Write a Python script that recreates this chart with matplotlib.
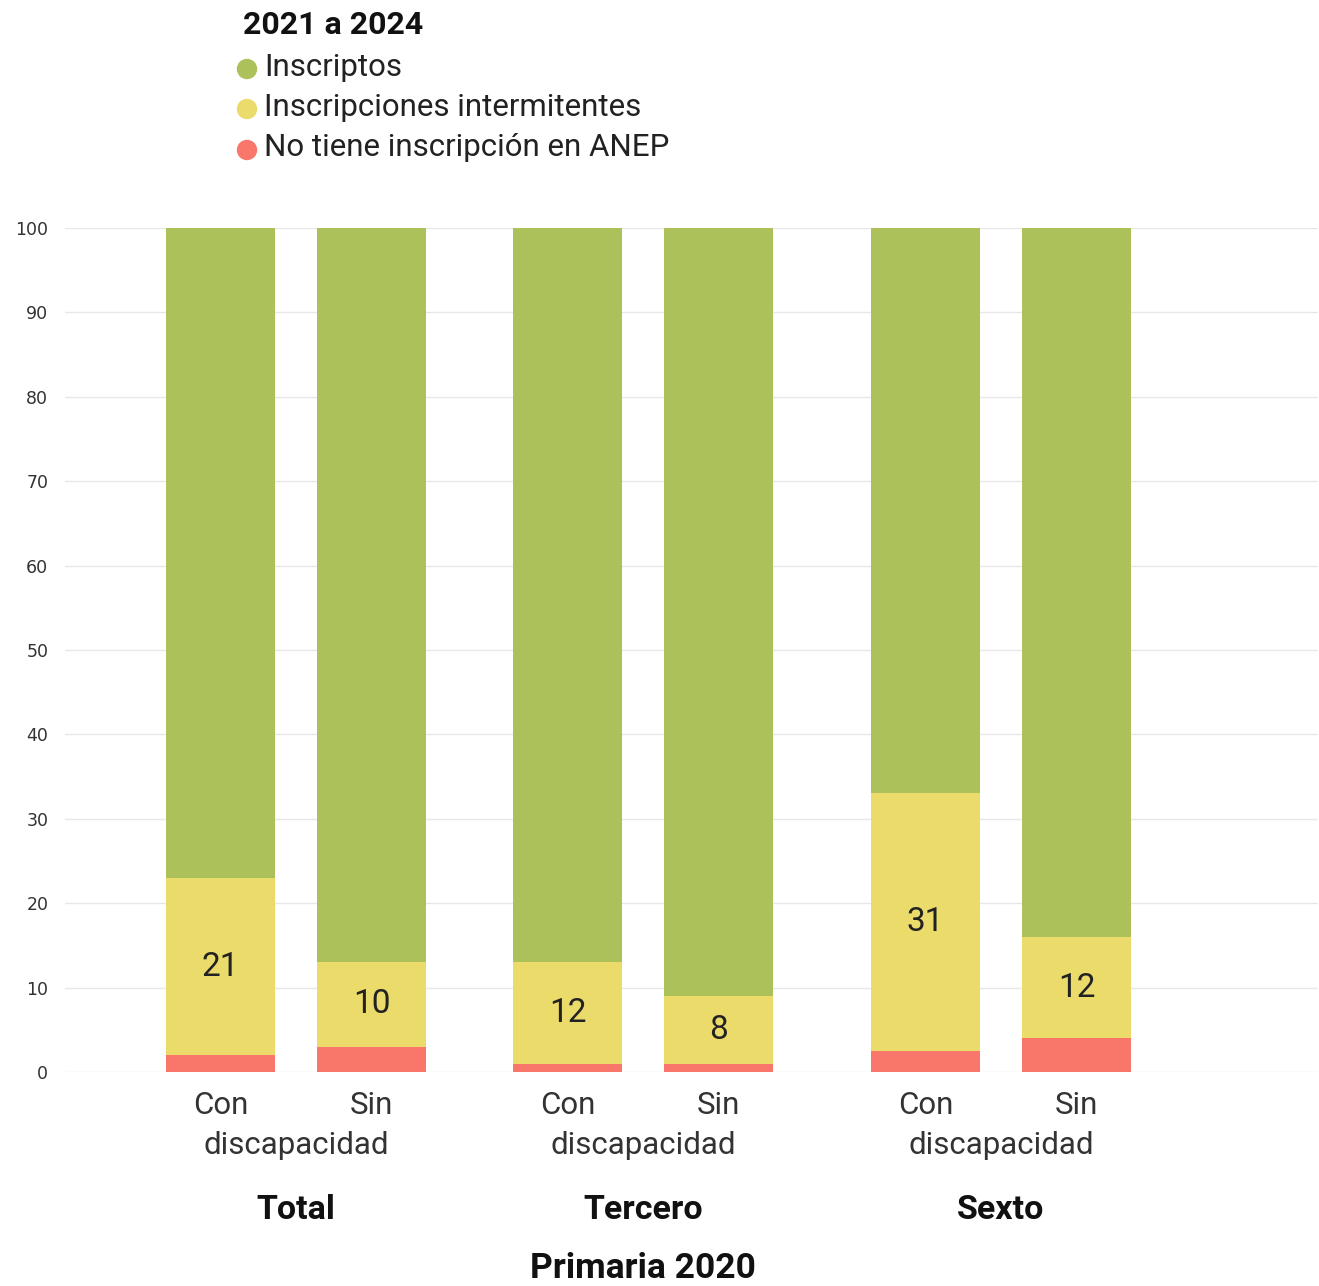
import matplotlib
matplotlib.use("Agg")
import matplotlib.pyplot as plt
from matplotlib.patches import Ellipse

plt.rcParams['font.family'] = ['Roboto', 'DejaVu Sans']

groups = ["Total", "Tercero", "Sexto"]
subcats = ["Con", "Sin"]
no_inscr = [2, 3, 1, 1, 2.5, 4]
intermit = [21, 10, 12, 8, 30.6, 12]
inscriptos = [100 - a - b for a, b in zip(no_inscr, intermit)]
yticks = [0, 10, 20, 30, 40, 50, 60, 70, 80, 90, 100]
legend_title = "2021 a 2024"
series_names = ["Inscriptos", "Inscripciones intermitentes", "No tiene inscripción en ANEP"]
xlabel_common = "discapacidad"
xaxis_title = "Primaria 2020"
colors = ["#adc15a", "#eadb6a", "#f8776a"]

group_pos = [0.5, 2.8, 5.17]
positions = []
for g in group_pos:
    positions += [g - 0.5, g + 0.5]

W, H = 1319, 1286
fig = plt.figure(figsize=(W / 100, H / 100), dpi=100)
ax = fig.add_axes([65 / W, 1 - 1072 / H, 1253 / W, (1072 - 228) / H])
w = 0.72
ax.bar(positions, no_inscr, width=w, color=colors[2], zorder=3)
ax.bar(positions, intermit, width=w, bottom=no_inscr, color=colors[1], zorder=3)
bottoms2 = [a + b for a, b in zip(no_inscr, intermit)]
ax.bar(positions, inscriptos, width=w, bottom=bottoms2, color=colors[0], zorder=3)

for x, b, v in zip(positions, no_inscr, intermit):
    ax.text(x, b + v / 2, f"{round(v):d}", ha="center", va="center",
            fontsize=24, color="#222222", zorder=4)

ax.set_xlim(-1.03, 7.27)
ax.set_ylim(0, 100)
ax.set_yticks(yticks)
ax.set_yticklabels([str(t) for t in yticks], fontsize=12.5, color="#333333",
                   family="DejaVu Sans")
ax.tick_params(axis="y", length=0, pad=12)
ax.set_xticks([])
for s in ax.spines.values():
    s.set_visible(False)
ax.grid(axis="y", color="#e8e8e8", linewidth=1, zorder=0)
ax.set_axisbelow(True)

def fy(py):
    return 1 - py / H

def fx(x):
    return ax.transData.transform((x, 0))[0] / W

for i, g in enumerate(group_pos):
    fig.text(fx(g - 0.5), fy(1105), subcats[0], ha="center", va="center",
             fontsize=22.5, color="#333333")
    fig.text(fx(g + 0.5), fy(1105), subcats[1], ha="center", va="center",
             fontsize=22.5, color="#333333")
    fig.text(fx(g), fy(1145), xlabel_common, ha="center", va="center",
             fontsize=22.5, color="#333333")
    fig.text(fx(g), fy(1210), groups[i], ha="center", va="center",
             fontsize=24.5, fontweight="bold", color="#111111")
fig.text(fx(group_pos[1]), fy(1268), xaxis_title, ha="center", va="center",
         fontsize=25.5, fontweight="bold", color="#111111")

# legend
fig.text(243 / W, fy(25), legend_title, ha="left", va="center",
         fontsize=23, fontweight="bold", color="#111111")
for i, (name, y) in enumerate(zip(series_names, [67, 107, 148])):
    fig.patches.append(Ellipse((247 / W, fy(y + 2)), 19 / W, 19 / H,
                               transform=fig.transFigure, color=colors[i], figure=fig))
    fig.text(264 / W, fy(y), name, ha="left", va="center",
             fontsize=22.5, color="#222222")

fig.savefig("out.png", dpi=100, facecolor="white")
